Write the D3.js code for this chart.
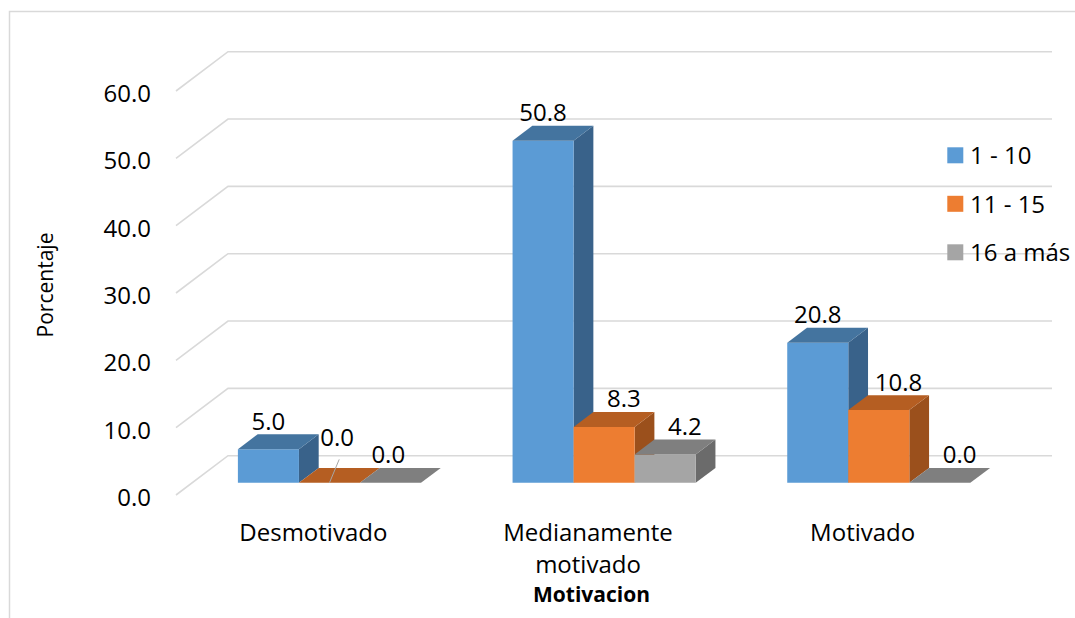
<!DOCTYPE html>
<html>
<head>
<meta charset="utf-8">
<script src="https://cdn.jsdelivr.net/npm/d3@7"></script>
<style>
  html, body { margin: 0; padding: 0; background: #fff; }
  svg { display: block; font-family: "Open Sans", "DejaVu Sans", sans-serif; }
</style>
</head>
<body>
<svg id="chart" width="1075" height="618"></svg>
<script>
// Chart values
const categories = ["Desmotivado", "Medianamente motivado", "Motivado"];
const series = ["1 - 10", "11 - 15", "16 a más"];
const values1to10 = [5.0, 50.8, 20.8];
const values11to15 = [0.0, 8.3, 10.8];
const values16plus = [0.0, 4.2, 0.0];
const yTicks = [0, 10, 20, 30, 40, 50, 60];
const yTitle = "Porcentaje";
const xTitle = "Motivacion";

const seriesValues = [values1to10, values11to15, values16plus];

// Face colours per series: front, top, side
const palette = [
  { front: "#5B9BD5", top: "#44749F", side: "#39628A" },
  { front: "#ED7D31", top: "#B55E22", side: "#9B501C" },
  { front: "#A5A5A5", top: "#7F7F7F", side: "#6B6B6B" }
];

const svg = d3.select("#chart");

// Back-wall geometry and depth vector (back -> front)
const backLeft = 228, backWidth = 824;
const depthDx = -52, depthDy = 39.3;
const barFront = 0.69, barBack = 0.31;   // bar depth fractions, measured from the back wall

const y = d3.scaleLinear().domain([0, 60]).range([455.7, 51.7]);
const x = d3.scaleBand().domain(categories).range([0, backWidth]).padding(0);
const xs = d3.scaleBand().domain(series).range([0, x.bandwidth()])
  .paddingInner(0).paddingOuter(0.75);

// Project a point given back-wall coords (u along category axis, value v) and depth fraction f
function P(u, v, f) {
  return [backLeft + u + depthDx * f, y(v) + depthDy * f];
}

// Outer chart frame
svg.append("rect")
  .attr("x", 9.5).attr("y", 11.5)
  .attr("width", 1100).attr("height", 700)
  .attr("fill", "none").attr("stroke", "#D9D9D9").attr("stroke-width", 1.5);

// Gridlines: back wall horizontals plus the left-side floor/wall diagonal
const grid = svg.append("g").attr("fill", "none").attr("stroke", "#D9D9D9").attr("stroke-width", 1.6);
yTicks.forEach(t => {
  const f0 = P(0, t, 1), b0 = P(0, t, 0), b1 = P(backWidth, t, 0);
  grid.append("polyline")
    .attr("points", [f0, b0, b1].map(p => p.join(",")).join(" "));
});

// Y tick labels at the front edge
svg.append("g").selectAll("text").data(yTicks).join("text")
  .attr("x", 151)
  .attr("y", d => P(0, d, 1)[1] + 1.5)
  .attr("text-anchor", "end")
  .attr("dominant-baseline", "central")
  .attr("font-size", 24)
  .attr("fill", "#000")
  .text(d => d3.format(".1f")(d));

// Y axis title
svg.append("text")
  .attr("transform", "translate(53,285) rotate(-90)")
  .attr("text-anchor", "middle")
  .attr("font-size", 21)
  .attr("fill", "#000")
  .text(yTitle);

// Bars, drawn left to right so each front face covers the neighbour's side
const bars = [];
categories.forEach((c, ci) => {
  series.forEach((s, si) => {
    bars.push({ c, ci, s, si, v: seriesValues[si][ci] });
  });
});

const barLayer = svg.append("g");
bars.forEach(b => {
  const u0 = x(b.c) + xs(b.s), u1 = u0 + xs.bandwidth();
  const ftl = P(u0, b.v, barFront), ftr = P(u1, b.v, barFront);
  const fbl = P(u0, 0, barFront), fbr = P(u1, 0, barFront);
  const btl = P(u0, b.v, barBack), btr = P(u1, b.v, barBack);
  const bbr = P(u1, 0, barBack);
  const col = palette[b.si];
  const g = barLayer.append("g");
  const poly = pts => pts.map(p => p.join(",")).join(" ");
  if (b.v > 0) {
    g.append("polygon").attr("points", poly([ftr, btr, bbr, fbr])).attr("fill", col.side);
    g.append("polygon").attr("points", poly([fbl, ftl, ftr, fbr])).attr("fill", col.front);
  }
  g.append("polygon").attr("points", poly([ftl, ftr, btr, btl])).attr("fill", col.top);
  b.frontCenter = [(ftl[0] + ftr[0]) / 2, ftl[1]];
  b.backCenter = [(btl[0] + btr[0]) / 2, btl[1]];
});

// Value labels; a couple of crowded zero labels are nudged clear, one with a leader line
const labelNudge = {
  "Desmotivado|11 - 15": { dx: -12, dy: -17, leader: true },
  "Desmotivado|16 a más": { dx: -22, dy: 0 }
};
const labelLayer = svg.append("g");
bars.forEach(b => {
  const base = b.si === 0 ? [b.frontCenter[0], b.backCenter[1]] : b.backCenter;
  const n = labelNudge[b.c + "|" + b.s] || { dx: 0, dy: 0 };
  const lx = base[0] + n.dx, ly = base[1] - 4.5 + n.dy;
  if (n.leader) {
    labelLayer.append("line")
      .attr("x1", lx + 2).attr("y1", ly + 13)
      .attr("x2", b.frontCenter[0]).attr("y2", b.frontCenter[1])
      .attr("stroke", "#A6A6A6").attr("stroke-width", 1);
  }
  labelLayer.append("text")
    .attr("x", lx).attr("y", ly)
    .attr("text-anchor", "middle")
    .attr("font-size", 24)
    .attr("fill", "#000")
    .text(d3.format(".1f")(b.v));
});

// Category labels under the front edge, wrapped to the band width
const catLayer = svg.append("g");
categories.forEach(c => {
  const cx = P(x(c) + x.bandwidth() / 2, 0, 1)[0];
  const t = catLayer.append("text")
    .attr("x", cx).attr("y", 541)
    .attr("text-anchor", "middle")
    .attr("font-size", 24)
    .attr("fill", "#000");
  const words = c.split(" ");
  let line = [], lineNo = 0;
  let ts = t.append("tspan").attr("x", cx).attr("dy", 0);
  words.forEach(w => {
    line.push(w);
    ts.text(line.join(" "));
    if (ts.node().getComputedTextLength() > 250 && line.length > 1) {
      line.pop();
      ts.text(line.join(" "));
      line = [w];
      lineNo++;
      ts = t.append("tspan").attr("x", cx).attr("dy", 32).text(w);
    }
  });
});

// X axis title
svg.append("text")
  .attr("x", 591.5).attr("y", 602)
  .attr("text-anchor", "middle")
  .attr("font-size", 21)
  .attr("font-weight", "bold")
  .attr("fill", "#000")
  .text(xTitle);

// Legend
const legend = svg.append("g");
series.forEach((s, i) => {
  const ly = 147.3 + i * 48.5;
  legend.append("rect")
    .attr("x", 947.3).attr("y", ly)
    .attr("width", 16).attr("height", 16)
    .attr("fill", palette[i].front);
  legend.append("text")
    .attr("x", 970).attr("y", ly + 16.7)
    .attr("font-size", 24)
    .attr("fill", "#000")
    .text(s);
});
</script>
</body>
</html>
